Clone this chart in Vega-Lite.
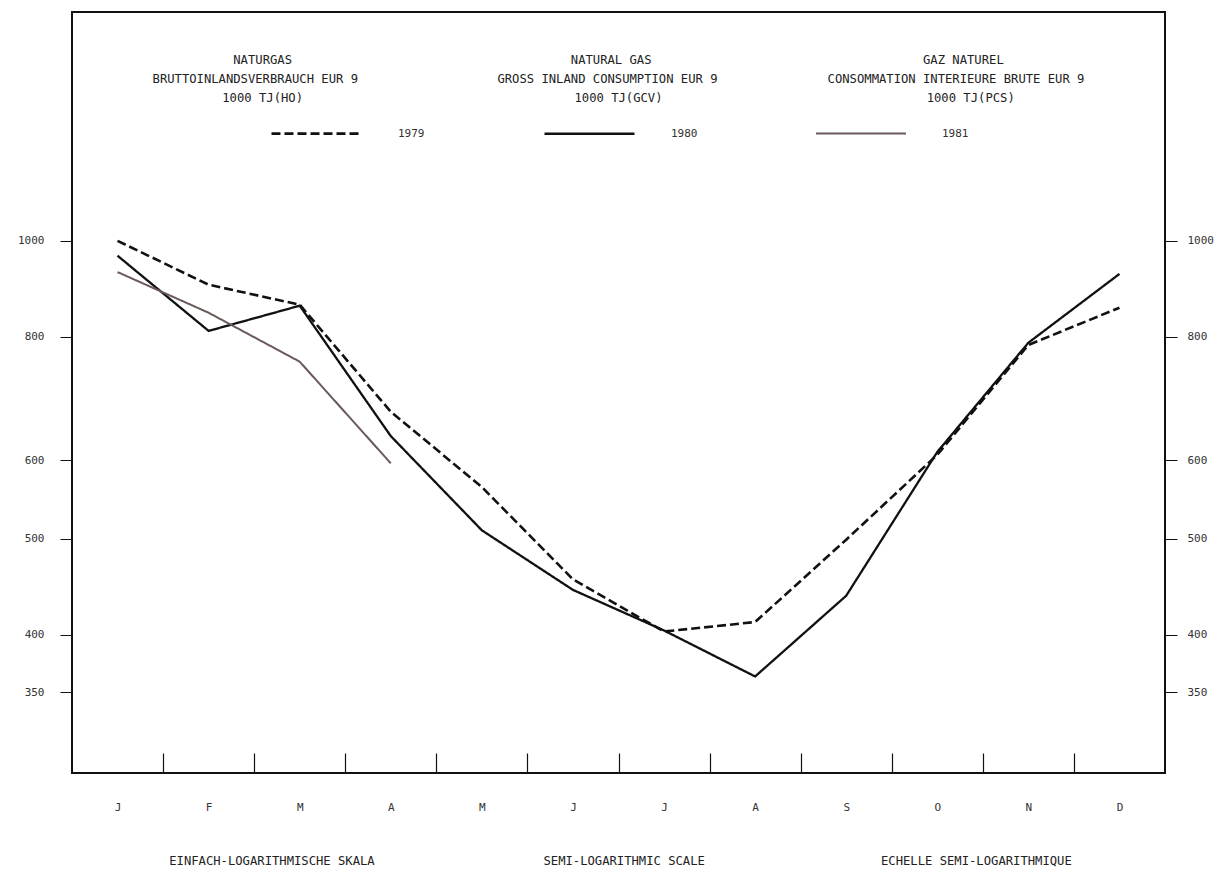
{
"$schema":"https://vega.github.io/schema/vega-lite/v6.json",
"autosize":"none","width":1093,"height":761,
"padding":{"left":72,"top":12,"right":63,"bottom":101},
"background":"white",
"config":{"view":{"stroke":"#111","strokeWidth":2},"font":"DejaVu Sans Mono"},
"title":{"text":["\u00a0\u00a0\u00a0\u00a0\u00a0\u00a0\u00a0\u00a0\u00a0\u00a0\u00a0\u00a0\u00a0\u00a0\u00a0\u00a0\u00a0\u00a0\u00a0\u00a0NATURGAS\u00a0\u00a0\u00a0\u00a0\u00a0\u00a0\u00a0\u00a0\u00a0\u00a0\u00a0\u00a0\u00a0\u00a0\u00a0\u00a0\u00a0\u00a0\u00a0\u00a0\u00a0\u00a0\u00a0\u00a0\u00a0\u00a0\u00a0\u00a0\u00a0\u00a0\u00a0\u00a0\u00a0\u00a0\u00a0\u00a0\u00a0\u00a0NATURAL\u00a0GAS\u00a0\u00a0\u00a0\u00a0\u00a0\u00a0\u00a0\u00a0\u00a0\u00a0\u00a0\u00a0\u00a0\u00a0\u00a0\u00a0\u00a0\u00a0\u00a0\u00a0\u00a0\u00a0\u00a0\u00a0\u00a0\u00a0\u00a0\u00a0\u00a0\u00a0\u00a0\u00a0\u00a0\u00a0\u00a0\u00a0\u00a0GAZ\u00a0NATUREL\u00a0\u00a0\u00a0\u00a0\u00a0\u00a0\u00a0\u00a0\u00a0\u00a0\u00a0\u00a0\u00a0\u00a0\u00a0\u00a0\u00a0\u00a0\u00a0",
"\u00a0\u00a0\u00a0\u00a0\u00a0\u00a0\u00a0\u00a0\u00a0\u00a0BRUTTOINLANDSVERBRAUCH\u00a0EUR\u00a09\u00a0\u00a0\u00a0\u00a0\u00a0\u00a0\u00a0\u00a0\u00a0\u00a0\u00a0\u00a0\u00a0\u00a0\u00a0\u00a0\u00a0\u00a0\u00a0GROSS\u00a0INLAND\u00a0CONSUMPTION\u00a0EUR\u00a09\u00a0\u00a0\u00a0\u00a0\u00a0\u00a0\u00a0\u00a0\u00a0\u00a0\u00a0\u00a0\u00a0\u00a0\u00a0CONSOMMATION\u00a0INTERIEURE\u00a0BRUTE\u00a0EUR\u00a09\u00a0\u00a0\u00a0\u00a0\u00a0\u00a0\u00a0",
"\u00a0\u00a0\u00a0\u00a0\u00a0\u00a0\u00a0\u00a0\u00a0\u00a0\u00a0\u00a0\u00a0\u00a0\u00a0\u00a0\u00a0\u00a01000\u00a0TJ(HO)\u00a0\u00a0\u00a0\u00a0\u00a0\u00a0\u00a0\u00a0\u00a0\u00a0\u00a0\u00a0\u00a0\u00a0\u00a0\u00a0\u00a0\u00a0\u00a0\u00a0\u00a0\u00a0\u00a0\u00a0\u00a0\u00a0\u00a0\u00a0\u00a0\u00a0\u00a0\u00a0\u00a0\u00a0\u00a0\u00a0\u00a01000\u00a0TJ(GCV)\u00a0\u00a0\u00a0\u00a0\u00a0\u00a0\u00a0\u00a0\u00a0\u00a0\u00a0\u00a0\u00a0\u00a0\u00a0\u00a0\u00a0\u00a0\u00a0\u00a0\u00a0\u00a0\u00a0\u00a0\u00a0\u00a0\u00a0\u00a0\u00a0\u00a0\u00a0\u00a0\u00a0\u00a0\u00a0\u00a01000\u00a0TJ(PCS)\u00a0\u00a0\u00a0\u00a0\u00a0\u00a0\u00a0\u00a0\u00a0\u00a0\u00a0\u00a0\u00a0\u00a0\u00a0\u00a0\u00a0\u00a0"],
"font":"DejaVu Sans Mono","fontSize":12.2,"fontWeight":"normal","color":"#222","anchor":"middle","baseline":"top","offset":-52,"dy":40,"lineHeight":19},
"data":{"values":[
{"m":1,"v":1000,"year":"1979"},{"m":2,"v":903,"year":"1979"},{"m":3,"v":862,"year":"1979"},{"m":4,"v":672,"year":"1979"},{"m":5,"v":564,"year":"1979"},{"m":6,"v":455,"year":"1979"},{"m":7,"v":403,"year":"1979"},{"m":8,"v":412,"year":"1979"},{"m":9,"v":499,"year":"1979"},{"m":10,"v":608,"year":"1979"},{"m":11,"v":785,"year":"1979"},{"m":12,"v":856,"year":"1979"},
{"m":1,"v":966,"year":"1980"},{"m":2,"v":811,"year":"1980"},{"m":3,"v":860,"year":"1980"},{"m":4,"v":635,"year":"1980"},{"m":5,"v":510,"year":"1980"},{"m":6,"v":444,"year":"1980"},{"m":7,"v":404,"year":"1980"},{"m":8,"v":363,"year":"1980"},{"m":9,"v":438,"year":"1980"},{"m":10,"v":612,"year":"1980"},{"m":11,"v":789,"year":"1980"},{"m":12,"v":926,"year":"1980"},
{"m":1,"v":930,"year":"1981"},{"m":2,"v":846,"year":"1981"},{"m":3,"v":755,"year":"1981"},{"m":4,"v":596,"year":"1981"}
]},
"resolve":{"axis":{"x":"independent","y":"independent"}},
"layer":[
{"mark":{"type":"line"},
"encoding":{
"x":{"field":"m","type":"quantitative","scale":{"domain":[0.5,12.5],"nice":false,"zero":false},
"axis":{"orient":"bottom","values":[1.5,2.5,3.5,4.5,5.5,6.5,7.5,8.5,9.5,10.5,11.5],"labels":false,"tickSize":-20,"tickColor":"#111","tickWidth":1.2,"domain":false,"grid":false,"title":null}},
"y":{"field":"v","type":"quantitative","scale":{"type":"log","domain":[290,1703],"nice":false},
"axis":{"orient":"left","values":[350,400,500,600,800,1000],"format":"d","tickSize":12,"tickColor":"#111","labelPadding":16,"labelFont":"DejaVu Sans Mono","labelFontSize":11,"labelColor":"#333","domain":false,"grid":false,"title":null}},
"color":{"field":"year","type":"nominal","scale":{"domain":["1979","1980","1981"],"range":["#111","#111","#6a5a5a"]},
"legend":{"orient":"none","legendX":198,"legendY":75,"direction":"horizontal","title":null,"symbolType":"stroke","symbolSize":8100,"labelOffset":35,"columnPadding":114,"labelFont":"DejaVu Sans Mono","labelFontSize":11,"labelColor":"#333","offset":0}},
"strokeDash":{"field":"year","type":"nominal","scale":{"domain":["1979","1980","1981"],"range":[[9,4],[1,0],[1,0]]}},
"strokeWidth":{"field":"year","type":"nominal","scale":{"domain":["1979","1980","1981"],"range":[2.6,2,1.2]}}
}},
{"mark":{"type":"line","opacity":0},
"encoding":{
"x":{"field":"m","type":"quantitative","scale":{"domain":[0.5,12.5],"nice":false,"zero":false},
"axis":{"orient":"bottom","values":[1,2,3,4,5,6,7,8,9,10,11,12],"labelExpr":"['J','F','M','A','M','J','J','A','S','O','N','D'][datum.value-1]","ticks":false,"domain":false,"grid":false,"labelPadding":28,"labelFont":"DejaVu Sans Mono","labelFontSize":11,"labelColor":"#333",
"title":"EINFACH-LOGARITHMISCHE\u00a0SKALA\u00a0\u00a0\u00a0\u00a0\u00a0\u00a0\u00a0\u00a0\u00a0\u00a0\u00a0\u00a0\u00a0\u00a0\u00a0\u00a0\u00a0\u00a0\u00a0\u00a0\u00a0\u00a0\u00a0SEMI-LOGARITHMIC\u00a0SCALE\u00a0\u00a0\u00a0\u00a0\u00a0\u00a0\u00a0\u00a0\u00a0\u00a0\u00a0\u00a0\u00a0\u00a0\u00a0\u00a0\u00a0\u00a0\u00a0\u00a0\u00a0\u00a0\u00a0\u00a0ECHELLE\u00a0SEMI-LOGARITHMIQUE",
"titleFont":"DejaVu Sans Mono","titleFontSize":12.2,"titleFontWeight":"normal","titleColor":"#222","titlePadding":42,"titleX":548,"titleAnchor":"middle"}},
"y":{"field":"v","type":"quantitative","scale":{"type":"log","domain":[290,1703],"nice":false},
"axis":{"orient":"right","values":[350,400,500,600,800,1000],"format":"d","tickSize":12,"tickColor":"#111","labelPadding":10,"labelFont":"DejaVu Sans Mono","labelFontSize":11,"labelColor":"#333","domain":false,"grid":false,"title":null}}
}}
]
}
